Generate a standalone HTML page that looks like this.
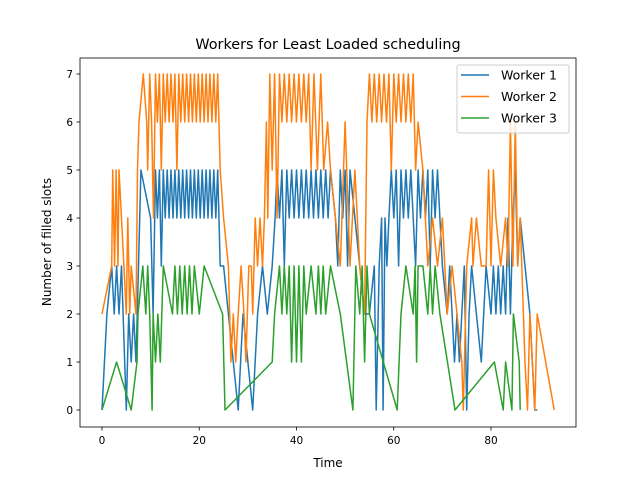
<!DOCTYPE html>
<html><head><meta charset="utf-8"><style>
body{margin:0;background:#fff;font-family:"Liberation Sans","DejaVu Sans",sans-serif}
svg text{font-family:"DejaVu Sans","Liberation Sans",sans-serif;fill:#000}
</style></head><body>
<svg id="chart" width="640" height="480" xmlns="http://www.w3.org/2000/svg">
<rect width="640" height="480" fill="#fff"/>
<text x="328" y="49" font-size="14.4" text-anchor="middle">Workers for Least Loaded scheduling</text>
<text x="328" y="467" font-size="12" text-anchor="middle">Time</text>
<text transform="translate(51,242) rotate(-90)" font-size="12" text-anchor="middle">Number of filled slots</text>
<g id="plot"></g>
</svg>
<script>
const xTicks=[0,20,40,60,80];
const yTicks=[0,1,2,3,4,5,6,7];
const seriesNames=["Worker 1","Worker 2","Worker 3"];
const worker1=[[0,0],[1,2],[2,3],[2.5,2],[3,3],[3.5,2],[4,3],[5,0],[5.5,2],[6,1],[6.5,2],[7,1],[7.5,3],[8,5],[10,4],[10.5,2],[11,5],[11.4,4],[11.8,5],[12.2,3],[12.6,5],[13,4],[13.4,5],[13.8,4],[14.2,5],[14.6,4],[15,5],[15.4,4],[15.8,5],[16.2,4],[16.6,5],[17,4],[17.4,5],[17.8,4],[18.2,5],[18.6,4],[19,5],[19.4,4],[19.8,5],[20.2,4],[20.6,5],[21,4],[21.4,5],[21.8,4],[22.2,5],[22.6,4],[23,5],[23.4,4],[23.8,5],[24.3,3],[25,3],[26,2],[27,1],[28,0],[29,2],[30,1],[31,0],[32,2],[33,3],[34,2],[35,3],[35.6,4],[36,5],[36.5,4],[37,5],[37.5,3],[38,5],[38.5,4],[39,5],[39.5,4],[40,5],[40.5,4],[41,5],[41.5,4],[42,5],[42.5,4],[43,5],[43.5,4],[44,5],[44.5,4],[45,5],[45.5,4],[46,5],[46.5,4],[47,5],[48,4],[48.5,3],[49,5],[49.5,4],[50,5],[50.5,3],[51,5],[52,4],[53,3],[54,2],[55,2],[56,3],[56.4,0],[57,3],[57.5,4],[57.8,0],[58.2,4],[58.6,3],[59,4],[59.5,5],[60,4],[60.5,5],[61,3],[61.5,5],[62,4],[62.5,5],[63,4],[63.5,5],[64,4],[64.5,3],[65,5],[65.5,4],[66,5],[66.5,4],[67,5],[67.5,3],[68,5],[68.5,4],[69,5],[69.5,4],[70,3],[71,2],[71.5,3],[72,2],[72.5,1],[73,2],[73.5,1],[74,2],[74.5,3],[75,0],[75.5,2],[76,3],[77,2],[78,1],[79,3],[80,2],[80.5,3],[81,2],[81.5,3],[82,2],[82.5,3],[83,2],[83.5,4],[84,2],[84.5,4],[85,5],[85.5,3],[86,4],[87,3],[88,2],[89,0],[89.5,0]];
const worker2=[[0,2],[2,3],[2.2,5],[2.6,3],[2.9,5],[3.3,3],[3.5,5],[4,4],[4.5,3],[5,2],[5.3,4],[5.7,2],[6,3],[7,2],[7.3,5],[7.6,6],[8.5,7],[9.2,6],[9.4,5],[9.8,7],[10.2,6],[10.6,4],[11,7],[11.4,6],[11.8,7],[12.2,5],[12.6,7],[13,6],[13.4,7],[13.8,6],[14.2,7],[14.6,6],[15,7],[15.4,5],[15.8,7],[16.2,6],[16.6,7],[17,6],[17.4,7],[17.8,6],[18.2,7],[18.6,6],[19,7],[19.4,6],[19.8,7],[20.2,6],[20.6,7],[21,6],[21.4,7],[21.8,6],[22.2,7],[22.6,6],[23,7],[23.4,6],[23.8,7],[24.3,5],[25,4],[26,3],[26.5,1],[27,2],[27.5,1],[28,2],[28.6,3],[29.2,2],[29.6,1],[30.2,3],[30.7,3],[31,2],[31.5,4],[32,3],[32.5,4],[33,3],[33.4,4],[33.8,6],[34.1,4],[34.5,7],[35,5],[35.5,7],[36,4],[36.5,7],[37,6],[37.5,7],[38,6],[38.5,7],[39,6],[39.5,7],[40,6],[40.5,7],[41,6],[41.5,7],[42,6],[42.5,7],[43,5],[43.6,7],[44.3,5],[45,7],[45.6,5],[46.4,6],[47,5],[48,4],[49,3],[50,6],[51,3],[52,5],[53,3],[54,2],[54.5,6],[55,7],[55.5,6],[56,7],[56.5,6],[57,7],[57.5,6],[58,7],[58.5,6],[59,7],[59.5,5],[60,7],[60.5,6],[61,7],[61.5,6],[62,7],[62.5,6],[63,7],[63.5,6],[64,7],[64.5,5],[65,6],[66,5],[67,3],[68,4],[69,3],[70,4],[71,2],[72,3],[73,2],[74,1],[74.3,0],[75,3],[76,4],[76.3,3],[77,4],[78,3],[79,3],[79.5,5],[80,3],[80.5,5],[81,4],[82,3],[83,4],[83.5,3],[84,6],[84.5,3],[85,6],[85.5,3],[86,4],[87,1],[87.5,0],[88,2],[89,0],[89.5,2],[93,0]];
const worker3=[[0,0],[3,1],[6,0],[7.2,1],[7.4,2],[8.4,3],[9,2],[9.4,3],[9.8,2],[10.3,0],[10.5,2],[11,1],[11.5,2],[12,1],[12.6,3],[14.5,2],[15,3],[15.5,2],[16,3],[16.5,2],[17,3],[17.5,2],[18,3],[18.5,2],[19,3],[20,2],[21,3],[24.8,2],[25.3,0],[35,1],[35.5,2],[36.5,3],[37,2],[37.5,3],[38,2],[38.5,3],[39,1],[39.5,3],[40,1],[40.5,3],[41,1],[41.5,3],[42,2],[43,3],[44,2],[44.5,3],[45,2],[45.5,3],[46,2],[47,3],[49,2],[51.6,0],[52.2,3],[53,2],[53.5,3],[54,1],[54.5,3],[55,2],[60.7,0],[61.5,2],[62.5,3],[64,2],[64.4,3],[64.7,1],[65,3],[66,3],[67,2],[67.5,3],[68,2],[68.5,3],[69.5,2],[72.6,0],[80.7,1],[82.5,0],[83,1],[84.3,0],[84.6,2],[85.8,1],[86,0]];
const colors=["#1f77b4","#ff7f0e","#2ca02c"];
const L=80,R=576,T=58,B=427;
function xs(t){return 102+t*(491-102)/80;}
function ys(v){return 410-v*(410-74)/7;}
const NS="http://www.w3.org/2000/svg";
const g=document.getElementById('plot');
function mk(tag,attrs){const e=document.createElementNS(NS,tag);for(const k in attrs)e.setAttribute(k,attrs[k]);g.appendChild(e);return e;}
[worker1,worker2,worker3].forEach((s,i)=>{
  const p=mk('polyline',{points:s.map(d=>xs(d[0]).toFixed(1)+','+ys(d[1]).toFixed(1)).join(' '),fill:'none',stroke:colors[i],'stroke-width':1.5,'stroke-linejoin':'round'});
  
  
});
const fr=mk('rect',{x:L,y:T,width:R-L,height:B-T,fill:'none',stroke:'#000','stroke-width':0.8});


xTicks.forEach(t=>{
  const x=xs(t);
  const l=mk('line',{x1:x,x2:x,y1:B,y2:B+3.5,stroke:'#000','stroke-width':0.8});
  
  
  const tx=mk('text',{x:x,y:B+17,'font-size':10.5,'text-anchor':'middle'});tx.textContent=t;
  
  
});
yTicks.forEach(v=>{
  const y=ys(v);
  const l=mk('line',{x1:L-3.5,x2:L,y1:y,y2:y,stroke:'#000','stroke-width':0.8});
  
  
  const tx=mk('text',{x:L-7,y:y+4,'font-size':10.5,'text-anchor':'end'});tx.textContent=v;
  
  
});
const lg=mk('rect',{x:457,y:65,width:112,height:68,rx:2,fill:'#fff','fill-opacity':0.8,stroke:'#ccc','stroke-width':1});


seriesNames.forEach((n,i)=>{
  const y=75+i*21.5;
  const l=mk('line',{x1:461,x2:489,y1:y,y2:y,stroke:colors[i],'stroke-width':1.5});
  
  
  const tx=mk('text',{x:501,y:y+4.5,'font-size':12.5});tx.textContent=n;
  
  
});
</script>
</body></html>
